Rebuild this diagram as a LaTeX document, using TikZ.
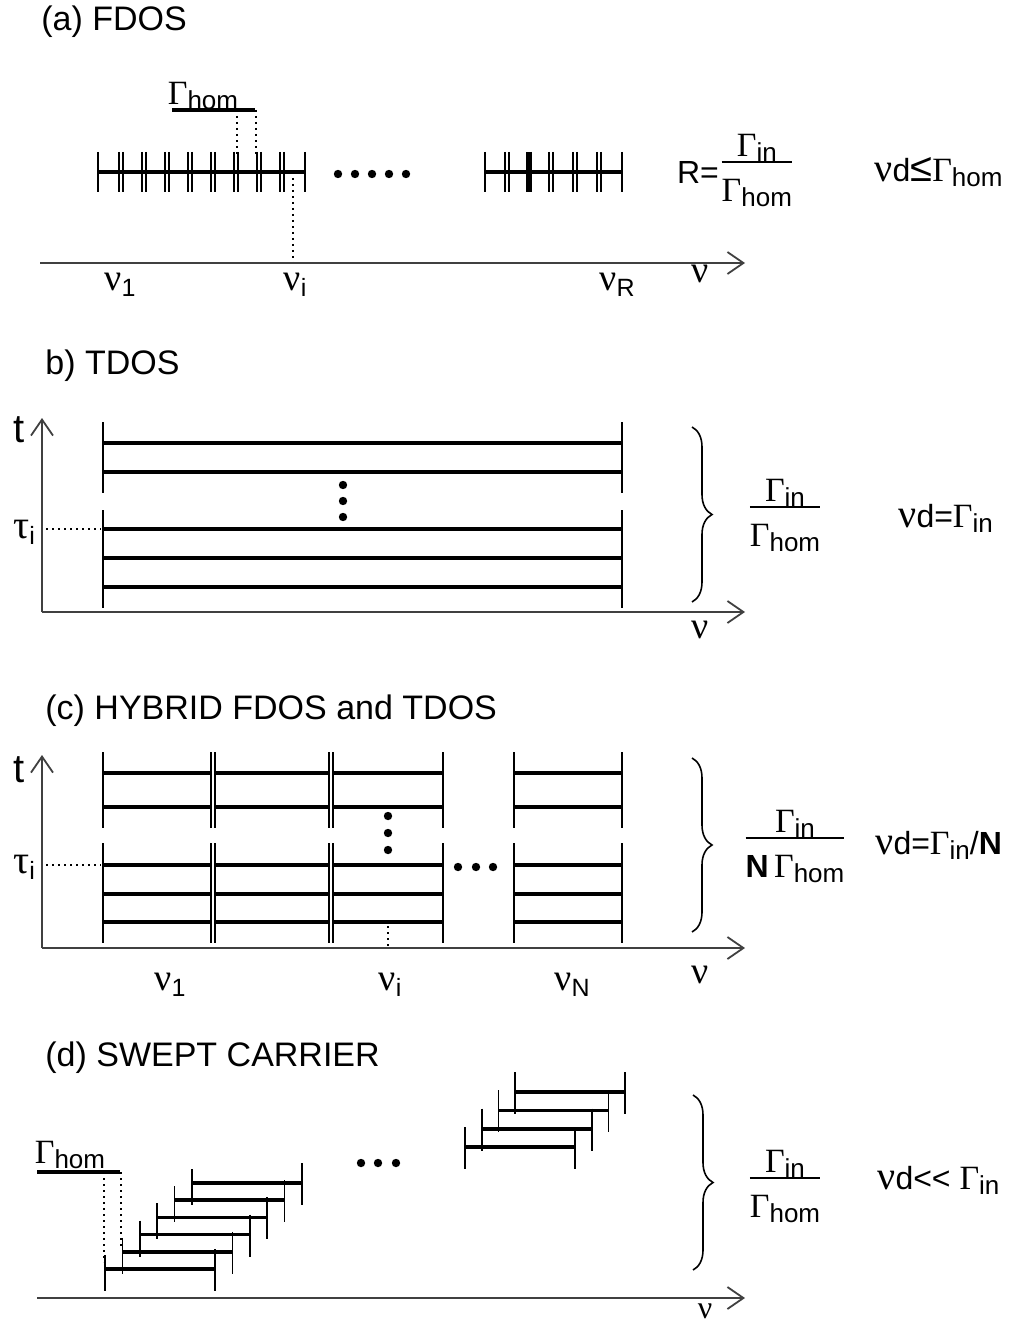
\documentclass[tikz,border=0pt]{standalone}
\usepackage{fontspec}
\setmainfont{Liberation Sans}
\newfontfamily\grk{Liberation Serif}
\usetikzlibrary{arrows.meta,positioning,decorations.pathreplacing}
\setlength\arrayrulewidth{1.2pt}
\newcommand\Gsub[1]{{\grk\fontsize{17}{17}\selectfont Γ}{\fontsize{13}{13}\selectfont\raisebox{-2.5pt}{#1}}}
\newcommand\Nsub[1]{{\grk\fontsize{19}{20}\selectfont ν}{\fontsize{12.5}{13}\selectfont\raisebox{-3pt}{#1}}}
\newcommand\nud{{\grk\fontsize{20}{20}\selectfont ν}d}
\newcommand\frc[2]{\begin{tabular}{@{}c@{}}#1\\[-3pt]\hline\rule{0pt}{19pt}#2\end{tabular}}
\tikzset{
  >={Straight Barb[length=8pt,width=11pt,line width=0.9pt]},
  % axlar
  axis/.style={->,draw=black!75,line width=0.9pt},
  % linjer
  lvl/.style={draw=black,line width=1.8pt},
  bar/.style={draw=black,line width=0.8pt},
  thickbar/.style={draw=black,line width=2.6pt},
  dotl/.style={draw=black,line width=1.1pt,dash pattern=on 1pt off 2pt},
  blob/.style={circle,fill=black,inner sep=0pt,minimum size=4.2pt},
  brc/.style={decorate,decoration={brace,amplitude=10pt},line width=0.8pt},
  % texter
  ttl/.style={font=\fontsize{17}{18}\selectfont,anchor=west,inner sep=0pt},
  lbl/.style={font=\fontsize{16}{17}\selectfont,inner sep=0pt},
}
\begin{document}
\begin{tikzpicture}[x=0.5pt,y=-0.5pt]
  \useasboundingbox (0,0) rectangle (1030,1326);
  % (a) FDOS
  \node[ttl] (ta) at (41,22) {(a) FDOS};
  \node[lbl] (gha) at (203,96) {\Gsub{hom}};
  \draw[lvl] (172,110) -- (255,110);
  \draw[dotl] (237,110) -- (237,156) (256,110) -- (256,156);
  \draw[lvl] (98,172) -- (305,172);
  \draw[bar] (98,152) -- (98,192) (305,152) -- (305,192);
  \foreach \x in {121,144,...,282}
    \draw[bar] (\x-2,152) -- (\x-2,192) (\x+2,152) -- (\x+2,192);
  \draw[dotl] (293,178) -- (293,262);
  \foreach \x in {338,355,...,406} \node[blob] (da\x) at (\x,174) {};
  \draw[lvl] (485,172) -- (622,172);
  \draw[bar] (485,152) -- (485,192) (622,152) -- (622,192);
  \foreach \x in {507,551,575,599}
    \draw[bar] (\x-2,152) -- (\x-2,192) (\x+2,152) -- (\x+2,192);
  \draw[thickbar] (529,152) -- (529,192);
  \node[lbl] (ra) at (698,172) {R=};
  \node[lbl,right=1pt of ra] (fa) {\frc{\Gsub{in}}{\Gsub{hom}}};
  \node[lbl,anchor=west] (ca) at (874,172) {\nud{\fontsize{20}{20}\selectfont ≤}\Gsub{hom}};
  \coordinate (a0) at (40,263);
  \coordinate (a1) at (745,263);
  \draw[axis] (a0) -- (a1);
  \node[lbl] (n1a) at (120,285) {\Nsub{1}};
  \node[lbl] (nia) at (295,285) {\Nsub{i}};
  \node[lbl] (nra) at (617,285) {\Nsub{R}};
  \node[lbl] (nua) at (700,274) {\grk\fontsize{19}{20}\selectfont ν};

  % (b) TDOS
  \node[ttl] (tb) at (45,366) {b) TDOS};
  \coordinate (b0) at (42,612);
  \draw[axis] (b0) -- (42,418);
  \draw[axis] (b0) -- (745,612);
  \node[lbl] (tlb) at (19,430) {\fontsize{20}{20}\selectfont t};
  \node[lbl] (tib) at (24,532) {{\grk\fontsize{20}{20}\selectfont τ}{\fontsize{12.5}{13}\selectfont\raisebox{-3pt}{i}}};
  \draw[dotl] (46,529) -- (101,529);
  \foreach \y in {443,472,529,558,587} \draw[lvl] (103,\y) -- (622,\y);
  \foreach \x in {103,622} \draw[bar] (\x,422) -- (\x,493) (\x,510) -- (\x,608);
  \foreach \y in {485,501,517} \node[blob] (db\y) at (343,\y) {};
  \draw[brc] (692,427) -- (692,602);
  \node[lbl] (fb) at (785,517) {\frc{\Gsub{in}}{\Gsub{hom}}};
  \node[lbl,anchor=west] (cb) at (898,518) {\nud=\Gsub{in}};
  \node[lbl] (nub) at (700,630) {\grk\fontsize{19}{20}\selectfont ν};

  % (c) HYBRID
  \node[ttl] (tc) at (45,711) {(c) HYBRID FDOS and TDOS};
  \coordinate (c0) at (42,948);
  \draw[axis] (c0) -- (42,755);
  \draw[axis] (c0) -- (745,948);
  \node[lbl] (tlc) at (19,770) {\fontsize{20}{20}\selectfont t};
  \node[lbl] (tic) at (24,867) {{\grk\fontsize{20}{20}\selectfont τ}{\fontsize{12.5}{13}\selectfont\raisebox{-3pt}{i}}};
  \draw[dotl] (46,865) -- (101,865);
  \foreach \y in {773,807,865,894,922}
    \draw[lvl] (103,\y) -- (211,\y) (215,\y) -- (329,\y) (333,\y) -- (443,\y) (514,\y) -- (622,\y);
  \foreach \x in {103,211,215,329,333,443,514,622}
    \draw[bar] (\x,752) -- (\x,828) (\x,843) -- (\x,943);
  \foreach \y in {816,833,850} \node[blob] (dc\y) at (388,\y) {};
  \foreach \x in {458,476,493} \node[blob] (ec\x) at (\x,867) {};
  \draw[dotl] (388,926) -- (388,947);
  \draw[brc] (692,758) -- (692,932);
  \node[lbl] (fc) at (795,848) {\frc{\Gsub{in}}{\textbf{N}\,\Gsub{hom}}};
  \node[lbl,anchor=west] (cc) at (875,845) {\nud=\Gsub{in}/\textbf{N}};
  \node[lbl] (n1c) at (170,985) {\Nsub{1}};
  \node[lbl] (nic) at (390,985) {\Nsub{i}};
  \node[lbl] (nnc) at (572,985) {\Nsub{N}};
  \node[lbl] (nuc) at (700,975) {\grk\fontsize{19}{20}\selectfont ν};

  % (d) SWEPT CARRIER
  \node[ttl] (td) at (45,1058) {(d) SWEPT CARRIER};
  \node[lbl] (ghd) at (70,1155) {\Gsub{hom}};
  \draw[lvl] (37,1172) -- (120,1172);
  \draw[dotl] (104,1172) -- (104,1262) (121,1172) -- (121,1246);
  \foreach \k [evaluate=\k as \xa using 105+17.4*\k,
               evaluate=\k as \ya using 1269-17.2*\k] in {0,...,5} {
    \draw[lvl] (\xa,\ya) -- ++(110,0);
    \draw[bar] (\xa,\ya-14) -- (\xa,\ya+22) (\xa+110,\ya-20) -- (\xa+110,\ya+22);
  }
  \foreach \x in {361,378,396} \node[blob] (dd\x) at (\x,1163) {};
  \foreach \k [evaluate=\k as \xa using 465+16.7*\k,
               evaluate=\k as \ya using 1147-18.3*\k] in {0,...,3} {
    \draw[lvl] (\xa,\ya) -- ++(110,0);
    \draw[bar] (\xa,\ya-20) -- (\xa,\ya+22) (\xa+110,\ya-20) -- (\xa+110,\ya+22);
  }
  \coordinate (d0) at (37,1298);
  \draw[axis] (d0) -- (745,1298);
  \draw[brc] (693,1095) -- (693,1270);
  \node[lbl] (fd) at (785,1188) {\frc{\Gsub{in}}{\Gsub{hom}}};
  \node[lbl,anchor=base] (nud) at (705,1318) {\grk\fontsize{16}{16}\selectfont ν};
  \node[lbl,anchor=west] (cd) at (877,1180) {\nud{<}{<} \Gsub{in}};
\end{tikzpicture}
\end{document}
